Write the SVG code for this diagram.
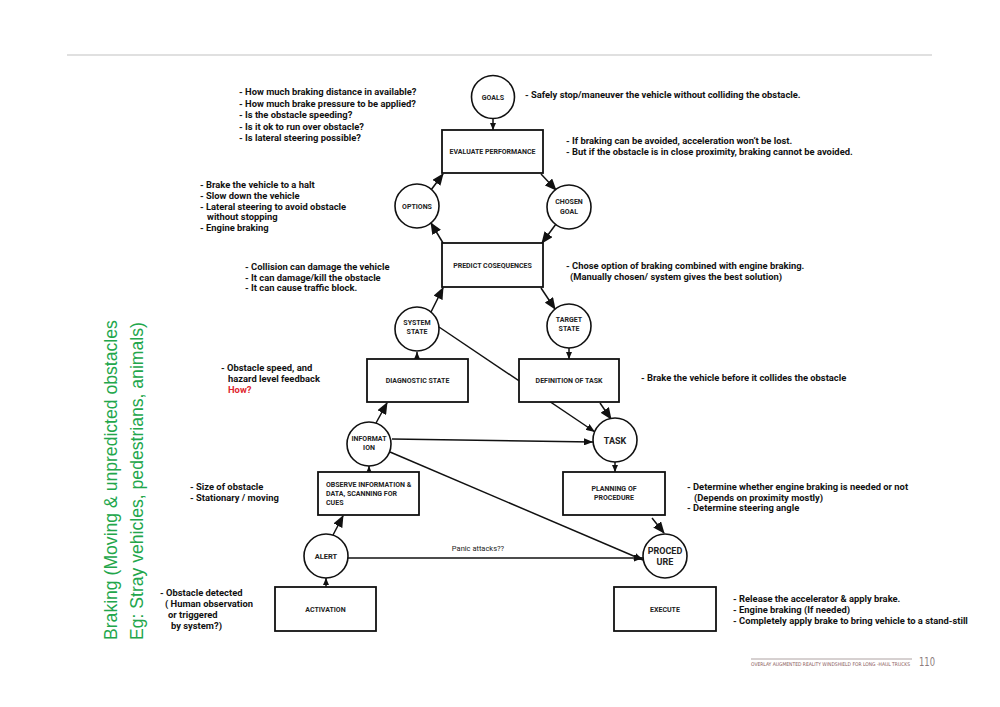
<svg xmlns="http://www.w3.org/2000/svg" width="1000" height="707" viewBox="0 0 1000 707">
<style>
.box{fill:#fff;stroke:#111;stroke-width:1.8}
.cir{fill:#fff;stroke:#111;stroke-width:1.6}
.nt{font-family:Roboto,"Liberation Sans",sans-serif;font-weight:bold;font-size:7px;fill:#222;text-anchor:middle}
.ann{font-family:Roboto,"Liberation Sans",sans-serif;font-weight:bold;font-size:9.4px;fill:#111}
.con{stroke:#111;stroke-width:1.5;fill:none}
.green{font-family:"Liberation Sans",Arial,sans-serif;font-size:17.6px;fill:#22a64b}
</style>
<defs>
<marker id="big" markerUnits="userSpaceOnUse" markerWidth="12" markerHeight="10" refX="11" refY="5" orient="auto" viewBox="0 0 12 10"><path d="M0,0 L12,5 L0,10 z" fill="#111"/></marker>
<marker id="small" markerUnits="userSpaceOnUse" markerWidth="7" markerHeight="6" refX="7" refY="3" orient="auto" viewBox="0 0 7 6"><path d="M0,0 L7,3 L0,6 z" fill="#111"/></marker>
<marker id="mid" markerUnits="userSpaceOnUse" markerWidth="9" markerHeight="7" refX="9" refY="3.5" orient="auto" viewBox="0 0 9 7"><path d="M0,0 L9,3.5 L0,7 z" fill="#111"/></marker>
</defs>
<rect width="1000" height="707" fill="#fff"/>
<line x1="67" y1="55" x2="932" y2="55" stroke="#d6d6d6" stroke-width="1.5"/>

<g id="connectors">
<line class="con" x1="493" y1="119" x2="493" y2="130" marker-end="url(#small)"/>
<line class="con" x1="431" y1="190" x2="443" y2="174" marker-end="url(#big)"/>
<line class="con" x1="541" y1="174" x2="556" y2="190" marker-end="url(#big)"/>
<line class="con" x1="556" y1="224" x2="542" y2="243" marker-end="url(#big)"/>
<line class="con" x1="443" y1="243" x2="431" y2="223" marker-end="url(#big)"/>
<line class="con" x1="431" y1="312" x2="443" y2="288" marker-end="url(#big)"/>
<line class="con" x1="541" y1="288" x2="555" y2="309" marker-end="url(#big)"/>
<line class="con" x1="417" y1="359" x2="417" y2="352" marker-end="url(#small)"/>
<line class="con" x1="569" y1="348" x2="569" y2="359" marker-end="url(#small)"/>
<line class="con" x1="439" y1="327" x2="595" y2="432" marker-end="url(#mid)"/>
<line class="con" x1="600" y1="403" x2="611" y2="419" marker-end="url(#big)"/>
<line class="con" x1="376" y1="423" x2="387" y2="403" marker-end="url(#big)"/>
<line class="con" x1="392" y1="439" x2="593" y2="442" marker-end="url(#mid)"/>
<line class="con" x1="390" y1="452" x2="643" y2="560" marker-end="url(#mid)"/>
<line class="con" x1="369" y1="472" x2="369" y2="466" marker-end="url(#small)"/>
<line class="con" x1="333" y1="535" x2="343" y2="516" marker-end="url(#big)"/>
<line class="con" x1="326" y1="587" x2="326" y2="578" marker-end="url(#small)"/>
<line class="con" x1="348" y1="558" x2="643" y2="558" marker-end="url(#mid)"/>
<line class="con" x1="615" y1="462" x2="615" y2="472" marker-end="url(#small)"/>
<line class="con" x1="652" y1="518" x2="664" y2="533" marker-end="url(#big)"/>
<text x="478" y="551" font-family="Roboto,'Liberation Sans',sans-serif" font-size="7.5" fill="#222" text-anchor="middle">Panic attacks??</text>
</g>

<g id="goals"><circle class="cir" cx="493" cy="97" r="21.5"/><text class="nt" x="493" y="100">GOALS</text></g>
<g id="evaluate"><rect class="box" x="442" y="130" width="101" height="43"/><text class="nt" x="492.5" y="154">EVALUATE PERFORMANCE</text></g>
<g id="options"><circle class="cir" cx="417" cy="206" r="22"/><text class="nt" x="417" y="209">OPTIONS</text></g>
<g id="chosen"><circle class="cir" cx="569" cy="207" r="22"/><text class="nt" x="569" y="204">CHOSEN</text><text class="nt" x="569" y="214">GOAL</text></g>
<g id="predict"><rect class="box" x="442" y="243" width="101" height="44"/><text class="nt" x="492.5" y="268">PREDICT COSEQUENCES</text></g>
<g id="system"><circle class="cir" cx="417" cy="329" r="22"/><text class="nt" x="417" y="325">SYSTEM</text><text class="nt" x="417" y="334">STATE</text></g>
<g id="target"><circle class="cir" cx="569" cy="326" r="22"/><text class="nt" x="569" y="322">TARGET</text><text class="nt" x="569" y="331">STATE</text></g>
<g id="diagnostic"><rect class="box" x="367" y="359" width="101" height="43"/><text class="nt" x="417.5" y="383">DIAGNOSTIC STATE</text></g>
<g id="definition"><rect class="box" x="519" y="359" width="100" height="43"/><text class="nt" x="569" y="383">DEFINITION OF TASK</text></g>
<g id="information"><circle class="cir" cx="369" cy="444" r="22"/><text class="nt" x="369" y="441">INFORMAT</text><text class="nt" x="369" y="450">ION</text></g>
<g id="task"><circle class="cir" cx="615" cy="440" r="22"/><text class="nt" x="615" y="444" style="font-size:9px">TASK</text></g>
<g id="observe"><rect class="box" x="318" y="472" width="101" height="43"/>
<text class="nt" style="text-anchor:start" x="326" y="487">OBSERVE INFORMATION &amp;</text>
<text class="nt" style="text-anchor:start" x="326" y="496">DATA, SCANNING FOR</text>
<text class="nt" style="text-anchor:start" x="326" y="505">CUES</text></g>
<g id="planning"><rect class="box" x="563" y="472" width="102" height="43"/><text class="nt" x="614" y="491">PLANNING OF</text><text class="nt" x="614" y="500">PROCEDURE</text></g>
<g id="alert"><circle class="cir" cx="326" cy="556" r="22"/><text class="nt" x="326" y="559" style="font-size:7.5px">ALERT</text></g>
<g id="procedure"><circle class="cir" cx="665" cy="556" r="22"/><text class="nt" x="665" y="554" style="font-size:9px">PROCED</text><text class="nt" x="665" y="565" style="font-size:9px">URE</text></g>
<g id="activation"><rect class="box" x="275" y="587" width="101" height="44"/><text class="nt" x="325.5" y="612">ACTIVATION</text></g>
<g id="execute"><rect class="box" x="614" y="587" width="102" height="44"/><text class="nt" x="665" y="612">EXECUTE</text></g>

<g id="annotations">
<text class="ann" x="239" y="95">- How much braking distance in available?</text>
<text class="ann" x="239" y="106.5">- How much brake pressure to be applied?</text>
<text class="ann" x="239" y="118">- Is the obstacle speeding?</text>
<text class="ann" x="239" y="129.5">- Is it ok to run over obstacle?</text>
<text class="ann" x="239" y="141">- Is lateral steering possible?</text>
<text class="ann" x="525" y="98">- Safely stop/maneuver the vehicle without colliding the obstacle.</text>
<text class="ann" x="566" y="144">- If braking can be avoided, acceleration won’t be lost.</text>
<text class="ann" x="566" y="155">- But if the obstacle is in close proximity, braking cannot be avoided.</text>
<text class="ann" x="200" y="188">- Brake the vehicle to a halt</text>
<text class="ann" x="200" y="199">- Slow down the vehicle</text>
<text class="ann" x="200" y="209.5">- Lateral steering to avoid obstacle</text>
<text class="ann" x="207" y="220">without stopping</text>
<text class="ann" x="200" y="231">- Engine braking</text>
<text class="ann" x="245" y="270">- Collision can damage the vehicle</text>
<text class="ann" x="245" y="280.5">- It can damage/kill the obstacle</text>
<text class="ann" x="245" y="291">- It can cause traffic block.</text>
<text class="ann" x="566" y="268.5">- Chose option of braking combined with engine braking.</text>
<text class="ann" x="570" y="279.5">(Manually chosen/ system gives the best solution)</text>
<text class="ann" x="641" y="381">- Brake the vehicle before it collides the obstacle</text>
<text class="ann" x="221" y="371">- Obstacle speed, and</text>
<text class="ann" x="228" y="382">hazard level feedback</text>
<text class="ann" x="228" y="393" style="fill:#e0262e">How?</text>
<text class="ann" x="190" y="490">- Size of obstacle</text>
<text class="ann" x="190" y="500.5">- Stationary / moving</text>
<text class="ann" x="687" y="490">- Determine whether engine braking is needed or not</text>
<text class="ann" x="694" y="500.5">(Depends on proximity mostly)</text>
<text class="ann" x="687" y="511">- Determine steering angle</text>
<text class="ann" x="160" y="596">- Obstacle detected</text>
<text class="ann" x="165" y="607">( Human observation</text>
<text class="ann" x="168" y="618">or triggered</text>
<text class="ann" x="171" y="629">by system?)</text>
<text class="ann" x="733" y="602">- Release the accelerator &amp; apply brake.</text>
<text class="ann" x="733" y="613">- Engine braking (If needed)</text>
<text class="ann" x="733" y="624">- Completely apply brake to bring vehicle to a stand-still</text>
</g>

<g id="sidebar">
<text class="green" transform="translate(117,640) rotate(-90)">Braking (Moving &amp; unpredicted obstacles</text>
<text class="green" transform="translate(143,640) rotate(-90)">Eg: Stray vehicles, pedestrians, animals)</text>
</g>

<g id="footer">
<line x1="751" y1="659" x2="912" y2="659" stroke="#9a8a8a" stroke-width="0.8"/>
<text x="751" y="666" font-family="'DejaVu Sans Condensed','Liberation Sans',sans-serif" font-size="5" fill="#8a5a5a" textLength="159" lengthAdjust="spacingAndGlyphs">OVERLAY AUGMENTED REALITY WINDSHIELD FOR LONG -HAUL TRUCKS</text>
<text x="919" y="666" font-family="'DejaVu Sans Condensed','Liberation Sans',sans-serif" font-size="12" fill="#8c7c7c" textLength="16" lengthAdjust="spacingAndGlyphs">110</text>
</g>
</svg>
